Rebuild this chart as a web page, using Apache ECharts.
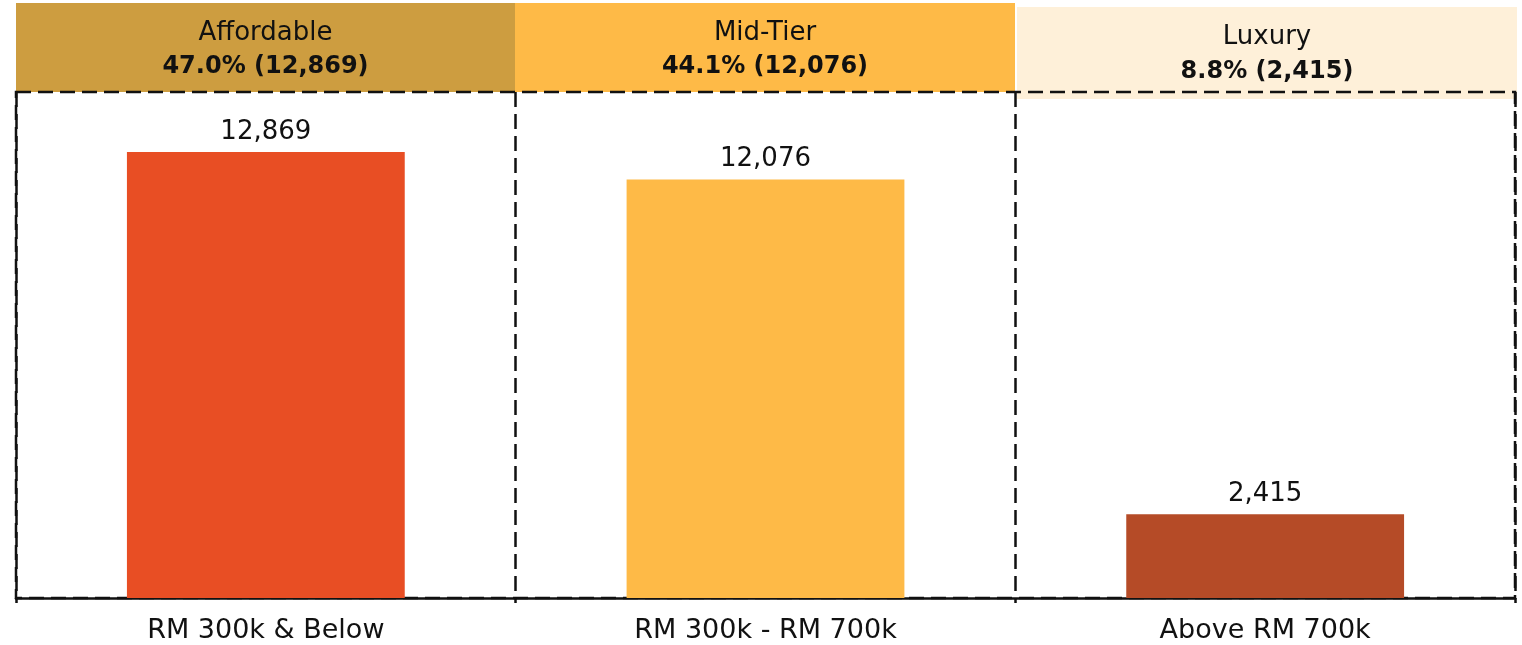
<!DOCTYPE html>
<html>
<head>
<meta charset="utf-8">
<title>Units by price band</title>
<script src="https://cdn.jsdelivr.net/npm/echarts@6/dist/echarts.min.js"></script>
<style>
  html, body { margin: 0; padding: 0; background: #fff; }
  #main { width: 1522px; height: 645px; }
</style>
</head>
<body>
<div id="main"></div>
<script>
// data
var categories = ['RM 300k & Below', 'RM 300k - RM 700k', 'Above RM 700k'];
var segments = ['Affordable', 'Mid-Tier', 'Luxury'];
var units = [12869, 12076, 2415];

// colours
var barColors = ['#E84E24', '#FEBA47', '#B54B27'];
var headColors = ['#CD9D40', '#FEBA47', '#FEF0D9'];

var FONT = '"DejaVu Sans", Lato, sans-serif';
var total = units.reduce(function (a, b) { return a + b; }, 0);

function fmt(n) { return n.toLocaleString('en-US'); }

// header bands above each category
var headBoxes = [
  { x: 16, y: 3, w: 499, h: 89, t1: 33, t2: 67 },
  { x: 515, y: 3, w: 500, h: 89, t1: 33, t2: 67 },
  { x: 1017, y: 7, w: 500, h: 92, t1: 37, t2: 72 }
];
var graphics = [];
headBoxes.forEach(function (b, i) {
  var pct = (units[i] / total * 100).toFixed(1);
  graphics.push({
    type: 'rect', z: -10,
    shape: { x: b.x, y: b.y, width: b.w, height: b.h },
    style: { fill: headColors[i] }
  });
  graphics.push({
    type: 'text', z: 10,
    x: b.x + b.w / 2, y: b.t1,
    style: { text: segments[i], fill: '#111', font: '26px ' + FONT, align: 'center', verticalAlign: 'middle' }
  });
  graphics.push({
    type: 'text', z: 10,
    x: b.x + b.w / 2, y: b.t2,
    style: { text: pct + '% (' + fmt(units[i]) + ')', fill: '#111', font: 'bold 24px ' + FONT, align: 'center', verticalAlign: 'middle' }
  });
});

var myChart = echarts.init(document.getElementById('main'));
var option = {
  animation: false,
  backgroundColor: '#fff',
  graphic: graphics,
  grid: {
    left: 16, right: 7, top: 92, bottom: 47,
    show: true,
    borderColor: '#111',
    borderWidth: 2.5,
    borderType: [15, 7],
    backgroundColor: 'transparent'
  },
  xAxis: {
    type: 'category',
    data: categories,
    axisLine: { lineStyle: { color: '#111', width: 2.5 } },
    axisTick: { show: true, length: 5, lineStyle: { color: '#111', width: 2.5 } },
    splitLine: { show: true, lineStyle: { color: '#111', width: 2.5, type: [15, 7] } },
    axisLabel: { color: '#111', fontSize: 27, fontFamily: FONT, margin: 19 }
  },
  yAxis: {
    type: 'value',
    min: 0,
    max: 14600,
    show: false,
    splitLine: { show: false }
  },
  series: [{
    type: 'bar',
    barWidth: '55.6%',
    data: units.map(function (v, i) {
      return { value: v, itemStyle: { color: barColors[i] } };
    }),
    label: {
      show: true,
      position: 'top',
      distance: 7,
      color: '#111',
      fontSize: 26,
      fontFamily: FONT,
      formatter: function (p) { return fmt(p.value); }
    }
  }]
};
myChart.setOption(option);
</script>
</body>
</html>
